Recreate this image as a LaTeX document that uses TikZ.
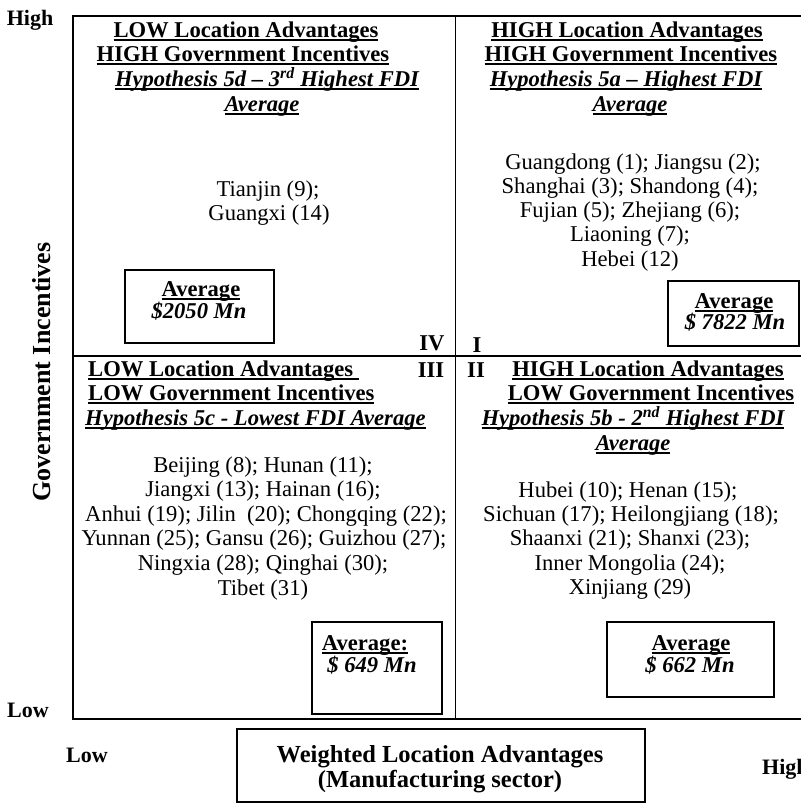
\documentclass[tikz,border=0pt]{standalone}
\usepackage{fontspec}
\setmainfont{Liberation Serif}
\newcommand\ulin[1]{\setbox0\hbox{#1}\rlap{\rule[-4pt]{\wd0}{1.8pt}}\box0}
\begin{document}
\begin{tikzpicture}[x=1pt,y=-1pt,
  hd/.style={font=\fontsize{22.6}{24.5}\selectfont\bfseries, anchor=base, inner sep=0pt},
  hyp/.style={font=\fontsize{22.6}{24.5}\selectfont\bfseries\itshape, anchor=base, inner sep=0pt},
  lst/.style={font=\fontsize{22.6}{24.5}\selectfont, anchor=base, inner sep=0pt},
  axl/.style={font=\fontsize{22}{24}\selectfont\bfseries, anchor=base, inner sep=0pt},
  avgbox/.style={draw, line width=1.3pt},
  frame/.style={draw, line width=1.2pt}]
\useasboundingbox (0,0) rectangle (801,804);
% frame
\coordinate (tl) at (73,16);
\coordinate (bl) at (73,719);
\coordinate (tr) at (812,16);
\coordinate (br) at (812,719);
\coordinate (mt) at (455.5,16);
\coordinate (mb) at (455.5,719);
\coordinate (ml) at (73,356);
\coordinate (mr) at (812,356);
\draw[frame] (tr) -- (tl) -- (bl) -- (br);
\draw[line width=0.8pt] (mt) -- (mb);
\draw[frame] (ml) -- (mr);
% axis labels
\node[axl] (hiy) at (30,25) {High};
\node[axl] (loy) at (28,717) {Low};
\node[axl] (lox) at (87,762) {Low};
\node[axl, anchor=base west] (hix) at (762,774) {High};
\node[font=\fontsize{26}{28}\selectfont\bfseries, rotate=90, inner sep=0pt] (gi) at (42,372) {Government Incentives};
% bottom box
\node[draw, line width=1.3pt, minimum width=408pt, minimum height=73pt, inner sep=0pt] (wla) at (441,765.5) {};
\node[font=\fontsize{24.5}{25}\selectfont\bfseries, anchor=base, inner sep=0pt] (wla1) at (440,762) {Weighted Location Advantages};
\node[font=\fontsize{24.5}{25}\selectfont\bfseries, anchor=base, inner sep=0pt] (wla2) at (440,787) {(Manufacturing sector)};
% Quadrant IV (top-left)
\node[hd] (q4a) at (246,37) {\ulin{LOW Location Advantages}};
\node[hd] (q4b) at (243,61) {\ulin{HIGH Government Incentives}};
\node[hyp] (q4c) at (267,86) {\ulin{Hypothesis 5d -- 3\textsuperscript{rd} Highest FDI}};
\node[hyp] (q4d) at (262,111) {\ulin{Average}};
\node[lst] (q4e) at (268,196) {Tianjin (9);};
\node[lst] (q4f) at (269,220) {Guangxi (14)};
\draw[avgbox] (125,270) rectangle (274,343);
\node[hd] (q4g) at (201,296) {\ulin{Average}};
\node[hyp] (q4h) at (199,318) {\$2050 Mn};
\node[hd] (q4l) at (432,350) {IV};
% Quadrant I (top-right)
\node[hd] (q1a) at (627,37) {\ulin{HIGH Location Advantages}};
\node[hd] (q1b) at (631,61) {\ulin{HIGH Government Incentives}};
\node[hyp] (q1c) at (626,86) {\ulin{Hypothesis 5a -- Highest FDI}};
\node[hyp] (q1d) at (630,111) {\ulin{Average}};
\node[lst] (q1e) at (633,169) {Guangdong (1); Jiangsu (2);};
\node[lst] (q1f) at (630,193) {Shanghai (3); Shandong (4);};
\node[lst] (q1g) at (630,217) {Fujian (5); Zhejiang (6);};
\node[lst] (q1h) at (630,241) {Liaoning (7);};
\node[lst] (q1i) at (630,266) {Hebei (12)};
\draw[avgbox] (668,281) rectangle (799,346);
\node[hd] (q1j) at (734,308) {\ulin{Average}};
\node[hyp] (q1k) at (735,329) {\$ 7822 Mn};
\node[hd] (q1l) at (477,352) {I};
% Quadrant III (bottom-left)
\node[hd, anchor=base west] (q3a) at (88,376) {\ulin{LOW Location Advantages\ }};
\node[hd] (q3l) at (431,377) {III};
\node[hd, anchor=base west] (q3b) at (88,400) {\ulin{LOW Government Incentives}};
\node[hyp, anchor=base west] (q3c) at (85,425) {\ulin{Hypothesis 5c - Lowest FDI Average}};
\node[lst] (q3d) at (263,472) {Beijing (8); Hunan (11);};
\node[lst] (q3e) at (263,496) {Jiangxi (13); Hainan (16);};
\node[lst] (q3f) at (266,521) {Anhui (19); Jilin\ \ (20); Chongqing (22);};
\node[lst] (q3g) at (264,545) {Yunnan (25); Gansu (26); Guizhou (27);};
\node[lst] (q3h) at (263,570) {Ningxia (28); Qinghai (30);};
\node[lst] (q3i) at (263,595) {Tibet (31)};
\draw[avgbox] (312,622) rectangle (442,714);
\node[hd] (q3j) at (365,650) {\ulin{Average:}};
\node[hyp] (q3k) at (372,672) {\$ 649 Mn};
% Quadrant II (bottom-right)
\node[hd] (q2l) at (476,377) {II};
\node[hd] (q2a) at (648,376) {\ulin{HIGH Location Advantages}};
\node[hd] (q2b) at (651,400) {\ulin{LOW Government Incentives}};
\node[hyp] (q2c) at (633,425) {\ulin{Hypothesis 5b - 2\textsuperscript{nd} Highest FDI}};
\node[hyp] (q2d) at (633,450) {\ulin{Average}};
\node[lst] (q2e) at (628,497) {Hubei (10); Henan (15);};
\node[lst] (q2f) at (631,521) {Sichuan (17); Heilongjiang (18);};
\node[lst] (q2g) at (630,545) {Shaanxi (21); Shanxi (23);};
\node[lst] (q2h) at (630,570) {Inner Mongolia (24);};
\node[lst] (q2i) at (630,594) {Xinjiang (29)};
\draw[avgbox] (607,622) rectangle (774,697);
\node[hd] (q2j) at (691,650) {\ulin{Average}};
\node[hyp] (q2k) at (690,672) {\$ 662 Mn};
\end{tikzpicture}
\end{document}
